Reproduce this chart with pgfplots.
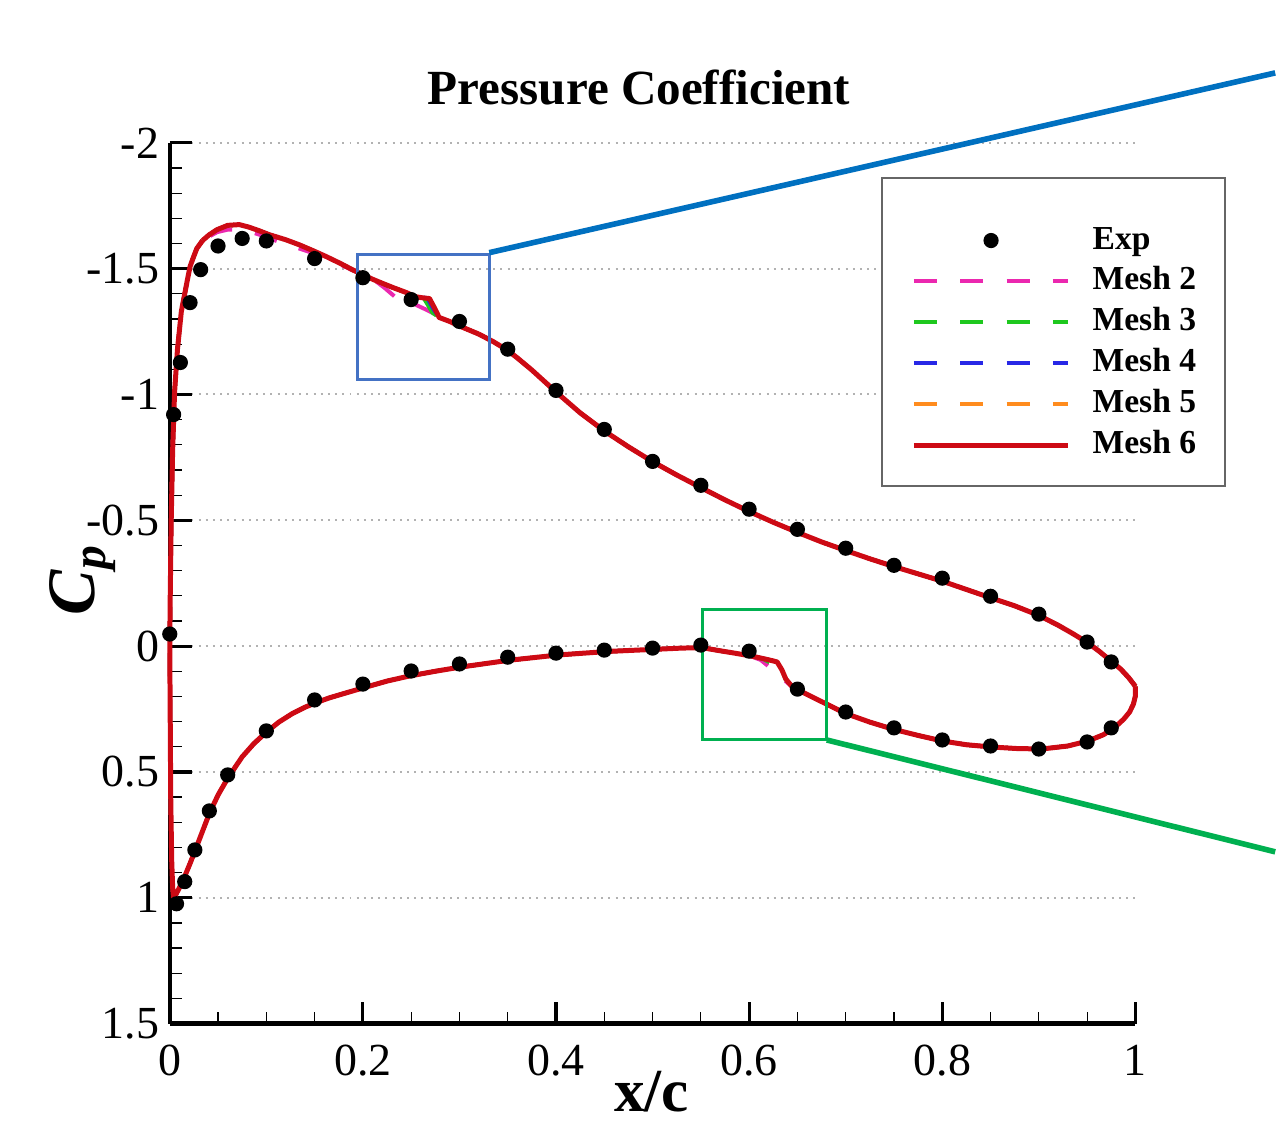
\documentclass[border=0pt]{standalone}
\usepackage{fontspec}
\setmainfont{Liberation Serif}
\usepackage{pgfplots}
\usepackage{pgfplotstable}
\pgfplotsset{compat=1.18}

\definecolor{meshtwo}{RGB}{235,40,175}
\definecolor{meshthree}{RGB}{30,200,30}
\definecolor{meshfour}{RGB}{40,40,230}
\definecolor{meshfive}{RGB}{255,140,30}
\definecolor{meshsix}{RGB}{205,10,20}
\definecolor{boxblue}{RGB}{68,114,196}
\definecolor{lineblue}{RGB}{0,112,192}
\definecolor{boxgreen}{RGB}{0,176,80}

\pgfplotsset{
  expstyle/.style={only marks, mark=*, mark size=1.7pt, black,
    legend image code/.code={\draw[##1, mark repeat=2, mark phase=2]
      plot coordinates {(0pt,0pt) (19.3pt,0pt) (38.6pt,0pt)};}},
  meshdash/.style={line width=1pt, dash pattern=on 5.8pt off 5.8pt,
    legend image code/.code={\draw[##1] (0pt,0pt) -- (38.6pt,0pt);}},
  meshsolid/.style={meshsix, line width=1.25pt, line join=round,
    legend image code/.code={\draw[##1] (0pt,0pt) -- (38.6pt,0pt);}},
}

% Experimental data
\pgfplotstableread{
x y
0.000 -0.048
0.004 -0.920
0.011 -1.127
0.021 -1.365
0.032 -1.496
0.050 -1.590
0.075 -1.620
0.100 -1.610
0.150 -1.540
0.200 -1.464
0.250 -1.377
0.300 -1.290
0.350 -1.180
0.400 -1.016
0.450 -0.861
0.500 -0.734
0.550 -0.639
0.600 -0.544
0.650 -0.464
0.700 -0.389
0.750 -0.321
0.800 -0.270
0.850 -0.198
0.900 -0.127
0.950 -0.016
0.975 0.063
0.007 1.024
0.0155 0.936
0.026 0.810
0.041 0.655
0.060 0.512
0.100 0.337
0.150 0.214
0.200 0.151
0.250 0.099
0.300 0.071
0.350 0.044
0.400 0.028
0.450 0.016
0.500 0.008
0.550 -0.004
0.600 0.020
0.650 0.171
0.700 0.262
0.750 0.325
0.800 0.373
0.850 0.397
0.900 0.409
0.950 0.381
0.975 0.325
}\expdata

% Segment A: upper surface, trailing edge to x=0.32 (all meshes)
\pgfplotstableread{
x y
1.000 0.160
0.993 0.125
0.985 0.092
0.975 0.060
0.963 0.022
0.950 -0.015
0.935 -0.050
0.920 -0.083
0.900 -0.122
0.875 -0.160
0.850 -0.192
0.825 -0.225
0.800 -0.258
0.775 -0.287
0.750 -0.316
0.725 -0.347
0.700 -0.380
0.675 -0.414
0.650 -0.452
0.625 -0.492
0.600 -0.535
0.575 -0.581
0.550 -0.630
0.525 -0.680
0.500 -0.733
0.475 -0.792
0.450 -0.855
0.425 -0.927
0.400 -1.010
0.375 -1.097
0.360 -1.145
0.350 -1.175
0.335 -1.210
0.320 -1.240
}\segA

% Segment B: upper shock region
\pgfplotstableread{
x y
0.320 -1.240
0.300 -1.272
0.290 -1.290
0.279 -1.306
0.274 -1.345
0.269 -1.381
0.262 -1.384
0.255 -1.388
0.245 -1.405
0.231 -1.425
0.220 -1.442
0.210 -1.458
0.200 -1.476
}\segBsix
\pgfplotstableread{
x y
0.320 -1.240
0.300 -1.272
0.285 -1.297
0.276 -1.317
0.265 -1.338
0.255 -1.356
0.245 -1.372
0.233 -1.389
0.222 -1.425
0.210 -1.460
0.200 -1.476
}\segBtwo
\pgfplotstableread{
x y
0.320 -1.240
0.300 -1.272
0.290 -1.290
0.279 -1.306
0.272 -1.325
0.262 -1.390
0.255 -1.397
0.245 -1.405
0.231 -1.425
0.220 -1.442
0.210 -1.458
0.200 -1.476
}\segBthree
\pgfplotstableread{
x y
0.320 -1.240
0.300 -1.272
0.290 -1.290
0.279 -1.306
0.273 -1.340
0.267 -1.382
0.262 -1.386
0.255 -1.390
0.245 -1.405
0.231 -1.425
0.220 -1.442
0.210 -1.458
0.200 -1.476
}\segBfour

% Segment P: suction peak region
\pgfplotstableread{
x y
0.200 -1.476
0.189 -1.496
0.176 -1.522
0.162 -1.548
0.148 -1.572
0.134 -1.595
0.120 -1.615
0.103 -1.635
0.093 -1.650
0.082 -1.665
0.072 -1.675
0.060 -1.672
0.049 -1.655
0.041 -1.635
0.034 -1.612
}\segPsix
\pgfplotstableread{
x y
0.200 -1.476
0.189 -1.494
0.176 -1.518
0.162 -1.542
0.148 -1.562
0.134 -1.580
0.120 -1.598
0.103 -1.620
0.093 -1.635
0.082 -1.648
0.072 -1.655
0.060 -1.655
0.049 -1.645
0.041 -1.628
0.034 -1.608
}\segPtwo

% Segment C: leading edge to lower x=0.551
\pgfplotstableread{
x y
0.034 -1.612
0.028 -1.580
0.024 -1.540
0.021 -1.508
0.018 -1.450
0.015 -1.390
0.012 -1.330
0.008 -1.180
0.005 -1.010
0.003 -0.780
0.0015 -0.500
0.0005 -0.200
0.000 0.000
0.0005 0.300
0.001 0.600
0.002 0.850
0.003 0.960
0.004 1.005
0.008 0.975
0.012 0.945
0.0155 0.915
0.021 0.864
0.026 0.815
0.033 0.745
0.041 0.665
0.050 0.592
0.060 0.525
0.075 0.440
0.087 0.388
0.100 0.342
0.113 0.302
0.127 0.268
0.140 0.243
0.152 0.224
0.165 0.206
0.179 0.190
0.204 0.162
0.225 0.139
0.248 0.119
0.275 0.100
0.300 0.084
0.352 0.056
0.403 0.035
0.455 0.021
0.507 0.012
0.530 0.008
0.551 0.006
}\segC

% Segment D: lower shock region
\pgfplotstableread{
x y
0.551 0.006
0.569 0.018
0.585 0.028
0.603 0.040
0.615 0.050
0.624 0.058
0.629 0.063
0.634 0.095
0.638 0.131
0.644 0.159
0.651 0.175
0.660 0.192
0.672 0.215
0.680 0.230
}\segDsix
\pgfplotstableread{
x y
0.551 0.006
0.569 0.018
0.590 0.032
0.603 0.042
0.612 0.055
0.620 0.080
0.629 0.110
0.638 0.140
0.644 0.160
0.651 0.175
0.660 0.192
0.672 0.215
0.680 0.230
}\segDtwo
\pgfplotstableread{
x y
0.551 0.006
0.569 0.018
0.590 0.032
0.603 0.040
0.615 0.052
0.624 0.070
0.632 0.105
0.638 0.133
0.644 0.159
0.651 0.175
0.660 0.192
0.672 0.215
0.680 0.230
}\segDthree

% Segment E: lower surface x=0.68 to trailing edge
\pgfplotstableread{
x y
0.680 0.230
0.700 0.268
0.725 0.302
0.748 0.329
0.775 0.355
0.800 0.377
0.825 0.392
0.851 0.401
0.877 0.407
0.903 0.409
0.930 0.397
0.951 0.377
0.967 0.352
0.979 0.322
0.988 0.290
0.994 0.262
0.998 0.230
1.000 0.198
1.000 0.160
}\segE

\begin{document}
\begin{tikzpicture}
\begin{axis}[
  scale only axis, width=241.75pt, height=220.5pt,
  xmin=0, xmax=1, ymin=-2, ymax=1.5, y dir=reverse,
  clip=false,
  axis x line=bottom, axis y line=left,
  axis line style={-, line width=1.1pt, black},
  xtick={0,0.2,0.4,0.6,0.8,1},
  ytick={-2,-1.5,-1,-0.5,0,0.5,1,1.5},
  minor x tick num=3, minor y tick num=4,
  tick align=inside,
  major tick length=5.5pt, minor tick length=3pt,
  major tick style={line width=0.8pt, black},
  minor tick style={line width=0.3pt, black},
  ymajorgrids,
  major grid style={black!30, line width=0.5pt, dash pattern=on 0.5pt off 1.3pt},
  /pgf/number format/assume math mode=true,
  ticklabel style={font=\fontsize{11.5}{13}\selectfont},
  xticklabel style={anchor=base, yshift=-13pt},
  yticklabel style={inner xsep=2.5pt},
  title={Pressure Coefficient},
  title style={at={(axis description cs:0.486,1)}, anchor=base, yshift=3.5pt,
    font=\bfseries\fontsize{12.3}{14}\selectfont},
  xlabel={x/c},
  xlabel style={at={(axis description cs:0.499,0)}, anchor=base, yshift=-22pt,
    font=\bfseries\fontsize{15.3}{17}\selectfont},
  ylabel={\textit{C}\textsubscript{\textit{p}}},
  ylabel style={at={(axis description cs:-0.0776,0.5045)}, anchor=base,
    font=\bfseries\fontsize{17}{19}\selectfont},
  legend style={draw=none, fill=none, at={(axis description cs:0.7673,0.9098)},
    anchor=north west, inner sep=0pt, column sep=5.5pt, row sep=1.5pt,
    font=\bfseries\fontsize{8.4}{10}\selectfont,
    nodes={inner sep=0pt, text height=6.5pt, text depth=2.25pt}},
  legend cell align=left,
]
% legend frame (white box)
\draw[black!60, line width=0.45pt, fill=white]
  (axis description cs:0.7373,0.9603) rectangle (axis description cs:1.0931,0.6100);

\addplot[expstyle] table {\expdata};
\addlegendentry{Exp}

% Mesh 2
\addplot[meshdash, meshtwo] table {\segA};
\addlegendentry{Mesh 2}
\addplot[meshdash, meshtwo, forget plot] table {\segBtwo};
\addplot[meshdash, meshtwo, forget plot] table {\segPtwo};
\addplot[meshdash, meshtwo, forget plot] table {\segC};
\addplot[meshdash, meshtwo, forget plot] table {\segDtwo};
\addplot[meshdash, meshtwo, forget plot] table {\segE};
% Mesh 3
\addplot[meshdash, meshthree] table {\segA};
\addlegendentry{Mesh 3}
\addplot[meshdash, meshthree, forget plot] table {\segBthree};
\addplot[meshdash, meshthree, forget plot] table {\segPsix};
\addplot[meshdash, meshthree, forget plot] table {\segC};
\addplot[meshdash, meshthree, forget plot] table {\segDthree};
\addplot[meshdash, meshthree, forget plot] table {\segE};
% Mesh 4
\addplot[meshdash, meshfour] table {\segA};
\addlegendentry{Mesh 4}
\addplot[meshdash, meshfour, forget plot] table {\segBfour};
\addplot[meshdash, meshfour, forget plot] table {\segPsix};
\addplot[meshdash, meshfour, forget plot] table {\segC};
\addplot[meshdash, meshfour, forget plot] table {\segDsix};
\addplot[meshdash, meshfour, forget plot] table {\segE};
% Mesh 5
\addplot[meshdash, meshfive] table {\segA};
\addlegendentry{Mesh 5}
\addplot[meshdash, meshfive, forget plot] table {\segBsix};
\addplot[meshdash, meshfive, forget plot] table {\segPsix};
\addplot[meshdash, meshfive, forget plot] table {\segC};
\addplot[meshdash, meshfive, forget plot] table {\segDsix};
\addplot[meshdash, meshfive, forget plot] table {\segE};
% Mesh 6
\addplot[meshsolid] table {\segA};
\addlegendentry{Mesh 6}
\addplot[meshsolid, forget plot] table {\segBsix};
\addplot[meshsolid, forget plot] table {\segPsix};
\addplot[meshsolid, forget plot] table {\segC};
\addplot[meshsolid, forget plot] table {\segDsix};
\addplot[meshsolid, forget plot] table {\segE};

% zoom boxes and connector lines
\draw[boxblue, line width=0.75pt] (axis cs:0.1944,-1.5556) rectangle (axis cs:0.3309,-1.0595);
\draw[lineblue, line width=1.4pt] (axis cs:0.3309,-1.5635) -- (axis cs:1.1448,-2.2778);
\draw[boxgreen, line width=0.75pt] (axis cs:0.5512,-0.1468) rectangle (axis cs:0.6804,0.3730);
\draw[boxgreen, line width=1.4pt] (axis cs:0.6804,0.3730) -- (axis cs:1.1448,0.8175);
% page extent
\path (axis cs:-0.1758,-2.5675) rectangle (axis cs:1.1458,1.9881);
\end{axis}
\end{tikzpicture}
\end{document}
